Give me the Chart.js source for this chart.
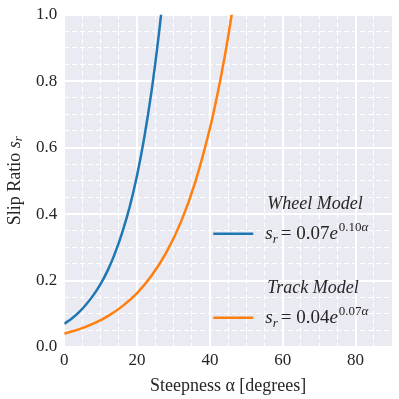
<!DOCTYPE html>
<html>
<head>
<meta charset="utf-8">
<script src="https://cdn.jsdelivr.net/npm/chart.js@4/dist/chart.umd.min.js"></script>
<style>
  html, body { margin: 0; padding: 0; background: #fff; }
  #wrap { width: 399px; height: 399px; }
</style>
</head>
<body>
<div id="wrap"><canvas id="chart"></canvas></div>
<script>
// slip ratio
const wheelAlpha = [0, 2, 4, 6, 8, 10, 12, 14, 16, 18, 20, 22, 24, 26, 27, 28];
const wheelSlip = [0.070, 0.085, 0.104, 0.128, 0.156, 0.190, 0.232, 0.284, 0.347, 0.423, 0.517, 0.632, 0.772, 0.943, 1.04, 1.15];
const trackAlpha = [0, 4, 8, 12, 16, 20, 24, 28, 32, 36, 40, 42, 44, 46, 48];
const trackSlip = [0.040, 0.053, 0.070, 0.093, 0.123, 0.162, 0.215, 0.284, 0.375, 0.497, 0.658, 0.757, 0.870, 1.001, 1.15];

const legendEntries = [
  { title: 'Wheel Model', coef: '0.07', rate: '0.10' },
  { title: 'Track Model', coef: '0.04', rate: '0.07' },
];

const SERIF = '"Liberation Serif", "DejaVu Serif", serif';
const toXY = (xs, ys) => xs.map((x, i) => ({ x, y: ys[i] }));

const bgPlugin = {
  id: 'bg',
  beforeDraw(chart) {
    const { ctx, chartArea: a } = chart;
    ctx.save();
    ctx.fillStyle = '#eaeaf2';
    ctx.fillRect(a.left, a.top, a.right - a.left, a.bottom - a.top);
    ctx.restore();
  }
};

// formula text: s_r = c e^{k α}
function drawFormula(ctx, x, y, coef, rate) {
  ctx.textBaseline = 'alphabetic';
  ctx.textAlign = 'left';
  ctx.font = 'italic 19px ' + SERIF;
  ctx.fillText('s', x, y);
  x += ctx.measureText('s').width;
  ctx.font = 'italic 13px ' + SERIF;
  ctx.fillText('r', x, y + 4);
  x += ctx.measureText('r').width + 3;
  ctx.font = '19px ' + SERIF;
  ctx.fillText('= ' + coef, x, y);
  x += ctx.measureText('= ' + coef).width;
  ctx.font = 'italic 19px ' + SERIF;
  ctx.fillText('e', x, y);
  x += ctx.measureText('e').width + 1;
  ctx.font = '13px ' + SERIF;
  ctx.fillText(rate, x, y - 8);
  x += ctx.measureText(rate).width;
  ctx.font = 'italic 13px ' + SERIF;
  ctx.fillText('α', x, y - 8);
}

const annotPlugin = {
  id: 'annot',
  afterDraw(chart) {
    const { ctx, chartArea: a } = chart;
    ctx.save();
    ctx.fillStyle = '#262626';
    // legend
    legendEntries.forEach((e, i) => {
      const top = a.top + 190 + i * 84;
      ctx.font = 'italic 18px ' + SERIF;
      ctx.textAlign = 'left';
      ctx.textBaseline = 'middle';
      ctx.fillText(e.title, a.left + 203, top);
      ctx.strokeStyle = chart.data.datasets[i].borderColor;
      ctx.lineWidth = 2.5;
      ctx.beginPath();
      ctx.moveTo(a.left + 149, top + 29);
      ctx.lineTo(a.left + 189, top + 29);
      ctx.stroke();
      drawFormula(ctx, a.left + 201, top + 34, e.coef, e.rate);
    });
    // y axis title with subscript
    ctx.translate(15, (a.top + a.bottom) / 2);
    ctx.rotate(-Math.PI / 2);
    ctx.textBaseline = 'middle';
    const main = 'Slip Ratio ';
    ctx.font = '18px ' + SERIF;
    const w1 = ctx.measureText(main).width;
    ctx.font = 'italic 18px ' + SERIF;
    const w2 = ctx.measureText('s').width;
    ctx.font = 'italic 13px ' + SERIF;
    const w3 = ctx.measureText('r').width;
    let x = -(w1 + w2 + w3) / 2;
    ctx.textAlign = 'left';
    ctx.font = '18px ' + SERIF;
    ctx.fillText(main, x, 0);
    x += w1;
    ctx.font = 'italic 18px ' + SERIF;
    ctx.fillText('s', x, 0);
    x += w2;
    ctx.font = 'italic 13px ' + SERIF;
    ctx.fillText('r', x, 4);
    ctx.restore();
  }
};

const isMajorX = v => Math.round(v) % 20 === 0;
const isMajorY = v => Math.round(v * 100) % 20 === 0;

new Chart(document.getElementById('chart'), {
  type: 'line',
  data: {
    datasets: [
      {
        label: 'Wheel Model',
        data: toXY(wheelAlpha, wheelSlip),
        borderColor: '#1f77b4',
        borderWidth: 2.5,
        pointRadius: 0,
        cubicInterpolationMode: 'monotone',
        fill: false,
      },
      {
        label: 'Track Model',
        data: toXY(trackAlpha, trackSlip),
        borderColor: '#ff7f0e',
        borderWidth: 2.5,
        pointRadius: 0,
        cubicInterpolationMode: 'monotone',
        fill: false,
      },
    ],
  },
  options: {
    responsive: true,
    maintainAspectRatio: false,
    animation: false,
    layout: { padding: { left: 29, right: 7, top: 0, bottom: 2 } },
    plugins: {
      legend: { display: false },
      tooltip: { enabled: false },
    },
    scales: {
      x: {
        type: 'linear',
        min: 0,
        max: 90,
        ticks: {
          stepSize: 5,
          autoSkip: false,
          maxRotation: 0,
          color: '#262626',
          font: { family: SERIF, size: 17 },
          padding: 3,
          callback: v => isMajorX(v) && v < 90 ? String(v) : '',
        },
        grid: {
          drawTicks: false,
          color: '#ffffff',
          lineWidth: c => isMajorX(c.tick.value) ? 2 : 1,
        },
        border: {
          display: false,
          dash: c => isMajorX(c.tick.value) ? [] : [5, 3],
        },
        title: {
          display: true,
          text: 'Steepness α [degrees]',
          color: '#262626',
          font: { family: SERIF, size: 18 },
          padding: { top: 2, bottom: 0 },
        },
      },
      y: {
        min: 0,
        max: 1,
        ticks: {
          stepSize: 0.05,
          autoSkip: false,
          color: '#262626',
          font: { family: SERIF, size: 17, lineHeight: 0.9 },
          padding: 7,
          callback: v => isMajorY(v) ? v.toFixed(1) : '',
        },
        grid: {
          drawTicks: false,
          color: '#ffffff',
          lineWidth: c => isMajorY(c.tick.value) ? 2 : 1,
        },
        border: {
          display: false,
          dash: c => isMajorY(c.tick.value) ? [] : [5, 3],
        },
      },
    },
  },
  plugins: [bgPlugin, annotPlugin],
});
</script>
</body>
</html>
